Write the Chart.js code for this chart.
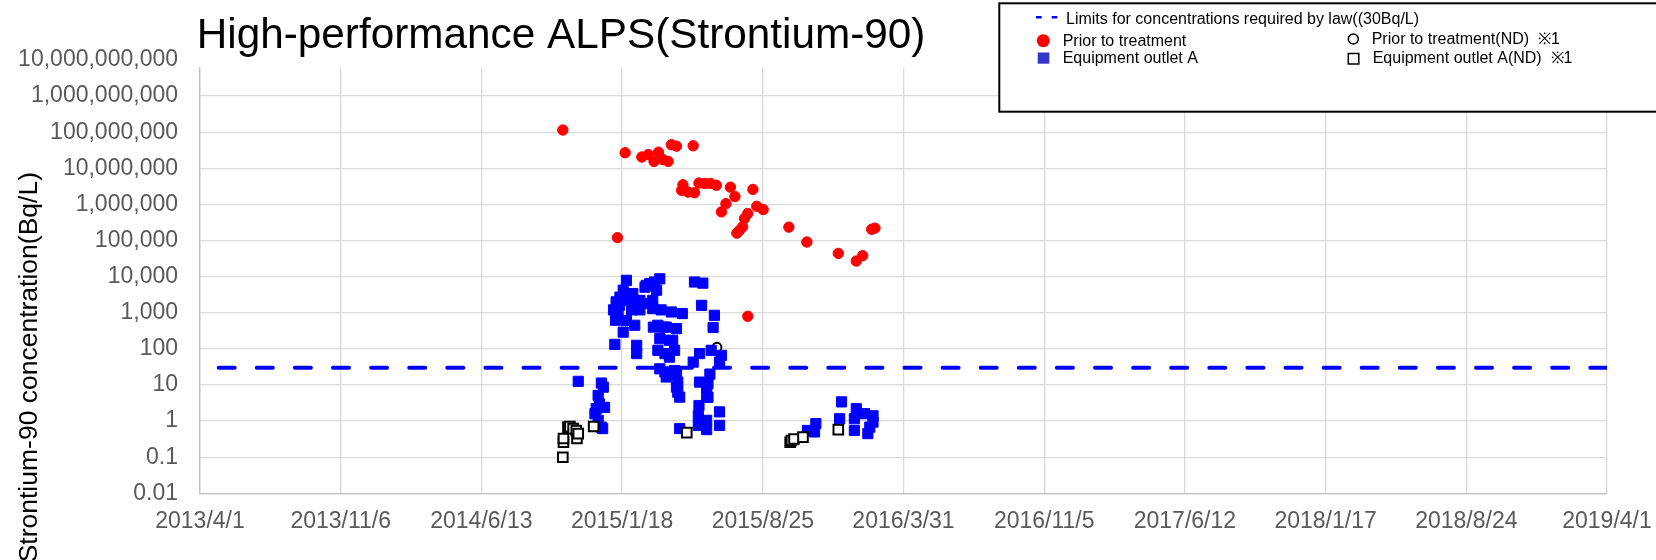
<!DOCTYPE html>
<html lang="en">
<head>
  <meta charset="UTF-8" />
  <title>High-performance ALPS (Strontium-90)</title>
  <script src="https://cdn.jsdelivr.net/npm/chart.js"></script>
  <style>
    html, body { margin: 0; padding: 0; background: #fff; }
    #wrap { width: 1656px; height: 560px; position: relative; }
  </style>
</head>
<body>
  <div id="wrap"><canvas id="srChart"></canvas></div>

  <script>
    const chartTitle = 'High-performance ALPS(Strontium-90)';
    const yAxisTitle = 'Strontium-90 concentration(Bq/L)';

    const xTickLabels = ['2013/4/1', '2013/11/6', '2014/6/13', '2015/1/18', '2015/8/25', '2016/3/31',
                         '2016/11/5', '2017/6/12', '2018/1/17', '2018/8/24', '2019/4/1'];
    const yTickValues = [0.01, 0.1, 1, 10, 100, 1000, 1e4, 1e5, 1e6, 1e7, 1e8, 1e9, 1e10];
    const yAxisMin = 0.01;
    const yAxisMax = 6.18e9; // plot area stops a little below the top label

    const limitLabel = 'Limits for concentrations required by law((30Bq/L)';
    const limitValue = 30;

    // Prior to treatment
    const priorDates = ['2014/10/18', '2015/1/11', '2015/1/23', '2015/2/18', '2015/2/28', '2015/3/9', '2015/3/16',
      '2015/3/23', '2015/3/31', '2015/4/5', '2015/4/13', '2015/4/21', '2015/4/23', '2015/5/1', '2015/5/9',
      '2015/5/11', '2015/5/18', '2015/5/27', '2015/6/5', '2015/6/14', '2015/6/22', '2015/6/29', '2015/7/6',
      '2015/7/13', '2015/7/16', '2015/7/20', '2015/7/25', '2015/7/28', '2015/8/2', '2015/8/2', '2015/8/10',
      '2015/8/16', '2015/8/26', '2015/10/5', '2015/11/2', '2015/12/21', '2016/1/18', '2016/1/28', '2016/2/11',
      '2016/2/16'];
    const priorValues = [115000000, 120000, 27000000, 20500000, 24000000, 15500000, 28000000,
      17400000, 15500000, 45000000, 41000000, 2450000, 3500000, 2200000, 42000000,
      2100000, 3900000, 3800000, 3800000, 3400000, 620000, 1050000, 3000000,
      1650000, 160000, 190000, 240000, 410000, 560000, 800, 2600000,
      890000, 720000, 235000, 91000, 44000, 27000, 38000, 205000,
      220000];

    // Equipment outlet A
    const outletDates = ['2014/11/11', '2014/12/7', '2014/12/9', '2014/12/12', '2014/12/12', '2014/12/14',
      '2014/12/17', '2014/12/17', '2014/12/19', '2014/12/20', '2014/12/22',
      '2015/1/5', '2015/1/7', '2015/1/8', '2015/1/9', '2015/1/12', '2015/1/14', '2015/1/15', '2015/1/20',
      '2015/1/20', '2015/1/25', '2015/1/25', '2015/1/30', '2015/2/2', '2015/2/4', '2015/2/7', '2015/2/10',
      '2015/2/10', '2015/2/15', '2015/2/15', '2015/2/23', '2015/2/25', '2015/3/2', '2015/3/2', '2015/3/7',
      '2015/3/7', '2015/3/8', '2015/3/10', '2015/3/13', '2015/3/15', '2015/3/15', '2015/3/18', '2015/3/18',
      '2015/3/18', '2015/3/20', '2015/3/23', '2015/3/26', '2015/3/26', '2015/3/28', '2015/3/28', '2015/4/2',
      '2015/4/2', '2015/4/5', '2015/4/7', '2015/4/10', '2015/4/10', '2015/4/13', '2015/4/13', '2015/4/13',
      '2015/4/15', '2015/4/15', '2015/4/18', '2015/4/18', '2015/4/22', '2015/5/9', '2015/5/11', '2015/5/17',
      '2015/5/17', '2015/5/18', '2015/5/19', '2015/5/19', '2015/5/22', '2015/5/24', '2015/5/30', '2015/5/30',
      '2015/5/30', '2015/5/30', '2015/6/1', '2015/6/1', '2015/6/4', '2015/6/6', '2015/6/9', '2015/6/11',
      '2015/6/19', '2015/6/19', '2015/6/19', '2015/6/22',
      '2015/11/3', '2015/11/14', '2015/11/16', '2015/12/23', '2015/12/26', '2016/1/15', '2016/1/15',
      '2016/1/18', '2016/1/31', '2016/2/5', '2016/2/8', '2016/2/13', '2016/2/13'];
    const outletValues = [12.6, 1.6, 2.2, 5.1, 1.05, 3.0,
      11.3, 0.68, 0.62, 8.7, 2.4,
      1200, 133, 620, 2000, 900, 1600, 2700, 4200,
      290, 7900, 610, 2200, 1200, 3400, 450, 125,
      74, 1200, 2200, 5100, 5700, 6400, 1800, 2200,
      1300, 400, 7100, 4200, 450, 91, 8700, 191,
      28, 1200, 400, 74, 23, 400, 16.6, 172,
      59, 1050, 172, 91, 25, 363, 20, 8.7,
      12, 6.3, 4.6, 0.62, 950, 43, 7100, 1.4,
      0.76, 2.7, 74, 12, 1600, 6600, 4.6, 1.05,
      0.58, 8.7, 10.8, 4.6, 20, 91, 390, 850,
      43, 1.8, 0.76, 66,
      0.55, 0.50, 0.85, 1.16, 3.4, 1.16, 0.55,
      2.2, 1.6, 0.45, 0.68, 1.4, 0.94];

    // Prior to treatment (ND)
    const priorNdDates = ['2015/6/15'];
    const priorNdValues = [110];

    // Equipment outlet A (ND)
    const outletNdDates = ['2014/10/18', '2014/10/19', '2014/10/19', '2014/10/26', '2014/10/29', '2014/11/3',
      '2014/11/8', '2014/11/9', '2014/11/11', '2014/12/5', '2015/4/29', '2015/10/7', '2015/10/9',
      '2015/10/13', '2015/10/27', '2015/12/21'];
    const outletNdValues = [0.1, 0.26, 0.33, 0.68, 0.7, 0.62,
      0.55, 0.33, 0.45, 0.71, 0.48, 0.26, 0.29,
      0.32, 0.36, 0.58];

    function dayNum(s) {
      const [y, m, d] = s.split('/').map(Number);
      return Date.UTC(y, m - 1, d) / 86400000;
    }

    function toPoints(dates, values) {
      return dates.map((d, i) => ({ x: dayNum(d), y: values[i] }));
    }

    const xMin = dayNum(xTickLabels[0]);
    const xMax = dayNum(xTickLabels[xTickLabels.length - 1]);
    const fontFamily = '"Liberation Sans", Arial, Helvetica, sans-serif';

    const datasets = [
      {
        label: limitLabel,
        data: [{ x: xMin, y: limitValue }, { x: xMax, y: limitValue }],
        showLine: true,
        borderColor: '#0000FF',
        borderWidth: 4,
        borderDash: [16, 22.1],
        borderDashOffset: 19.4,
        borderCapStyle: 'round',
        pointRadius: 0,
        order: 5
      },
      {
        label: 'Prior to treatment',
        data: toPoints(priorDates, priorValues),
        pointStyle: 'circle',
        pointRadius: 5.2,
        backgroundColor: '#FF0000',
        borderColor: '#FF0000',
        borderWidth: 1,
        order: 2
      },
      {
        label: 'Equipment outlet A',
        data: toPoints(outletDates, outletValues),
        pointStyle: 'rect',
        pointRadius: 7.2,
        backgroundColor: '#0000FF',
        borderColor: '#0000FF',
        borderWidth: 1,
        order: 1
      },
      {
        label: 'Prior to treatment(ND)  ※1',
        data: toPoints(priorNdDates, priorNdValues),
        pointStyle: 'circle',
        pointRadius: 4.5,
        backgroundColor: '#FFFFFF',
        borderColor: '#000000',
        borderWidth: 2,
        order: 4
      },
      {
        label: 'Equipment outlet A(ND)  ※1',
        data: toPoints(outletNdDates, outletNdValues),
        pointStyle: 'rect',
        pointRadius: 6.8,
        backgroundColor: '#FFFFFF',
        borderColor: '#000000',
        borderWidth: 2,
        order: 0
      }
    ];

    // title, rotated axis title and the boxed legend, drawn where the original has them
    const decorPlugin = {
      id: 'decor',
      afterDraw(chart) {
        const ctx = chart.ctx;
        const ds = chart.data.datasets;
        ctx.save();

        ctx.fillStyle = '#000';
        ctx.textAlign = 'left';
        ctx.textBaseline = 'alphabetic';
        ctx.font = '42.3px ' + fontFamily;
        ctx.fillText(chartTitle, 196.7, 47.7);

        ctx.save();
        ctx.translate(37, 172);
        ctx.rotate(-Math.PI / 2);
        ctx.textAlign = 'right';
        ctx.font = '26.5px ' + fontFamily;
        ctx.fillText(yAxisTitle, 0, 0);
        ctx.restore();

        // legend box
        ctx.fillStyle = '#fff';
        ctx.fillRect(999.3, 3.3, 700, 108.4);
        ctx.strokeStyle = '#000';
        ctx.lineWidth = 2;
        ctx.strokeRect(999.3, 3.3, 700, 108.4);

        ctx.font = '16px ' + fontFamily;
        ctx.fillStyle = '#000';

        // limit line sample
        ctx.strokeStyle = ds[0].borderColor;
        ctx.lineWidth = 2.5;
        ctx.beginPath();
        ctx.moveTo(1036, 17.3); ctx.lineTo(1041.7, 17.3);
        ctx.moveTo(1051.7, 17.3); ctx.lineTo(1057.3, 17.3);
        ctx.stroke();
        ctx.fillText(ds[0].label, 1066, 24.3);

        // prior to treatment
        ctx.fillStyle = ds[1].backgroundColor;
        ctx.beginPath();
        ctx.arc(1043.3, 40.7, 6.5, 0, Math.PI * 2);
        ctx.fill();
        ctx.fillStyle = '#000';
        ctx.fillText(ds[1].label, 1062.7, 46);

        // equipment outlet A
        ctx.fillStyle = '#3535C8';
        ctx.fillRect(1037.7, 52.5, 11.6, 11.2);
        ctx.fillStyle = '#000';
        ctx.fillText(ds[2].label, 1062.7, 62.7);

        // ND markers
        ctx.strokeStyle = '#000';
        ctx.lineWidth = 1.5;
        ctx.beginPath();
        ctx.arc(1353.3, 39, 5, 0, Math.PI * 2);
        ctx.stroke();
        ctx.fillText(ds[3].label, 1371.7, 43.5);

        ctx.strokeRect(1348.3, 53.5, 10.5, 10.5);
        ctx.fillText(ds[4].label, 1372.7, 62.7);

        ctx.restore();
      }
    };

    const ctx = document.getElementById('srChart').getContext('2d');
    new Chart(ctx, {
      type: 'scatter',
      data: { datasets },
      plugins: [decorPlugin],
      options: {
        responsive: true,
        maintainAspectRatio: false,
        animation: false,
        layout: { padding: { left: 0, right: 49, top: 67.5, bottom: 0 } },
        plugins: {
          legend: { display: false },
          title: { display: false },
          tooltip: { enabled: false }
        },
        scales: {
          x: {
            type: 'linear',
            min: xMin,
            max: xMax,
            afterBuildTicks: (scale) => {
              const step = (xMax - xMin) / (xTickLabels.length - 1);
              scale.ticks = xTickLabels.map((_, i) => ({ value: xMin + i * step }));
            },
            afterFit: (scale) => {
              scale.height = 66.7;
              // edge labels may hang over, as in the original
              scale.paddingLeft = 0;
              scale.paddingRight = 0;
            },
            ticks: {
              autoSkip: false,
              maxRotation: 0,
              padding: 14.6,
              color: '#595959',
              font: { family: fontFamily, size: 23 },
              callback: (v, i) => xTickLabels[i]
            },
            grid: { color: '#D9D9D9', lineWidth: 1.3, drawTicks: false },
            border: { color: '#BFBFBF', width: 1.3 }
          },
          y: {
            type: 'logarithmic',
            min: yAxisMin,
            max: yAxisMax,
            afterBuildTicks: (scale) => {
              scale.ticks = yTickValues.map(v => ({ value: v }));
            },
            afterFit: (scale) => {
              scale.width = 200;
              scale.paddingTop = 0;
              scale.paddingBottom = 0;
            },
            ticks: {
              autoSkip: false,
              padding: 22,
              color: '#595959',
              font: { family: fontFamily, size: 23 },
              callback: (v) => Number(v).toLocaleString('en-US', { maximumFractionDigits: 2 })
            },
            grid: {
              color: (c) => (c.tick && c.tick.value > yAxisMax ? 'rgba(0,0,0,0)' : '#D9D9D9'),
              lineWidth: 1.3,
              drawTicks: false
            },
            border: { color: '#BFBFBF', width: 1.3 }
          }
        }
      }
    });
  </script>
</body>
</html>
